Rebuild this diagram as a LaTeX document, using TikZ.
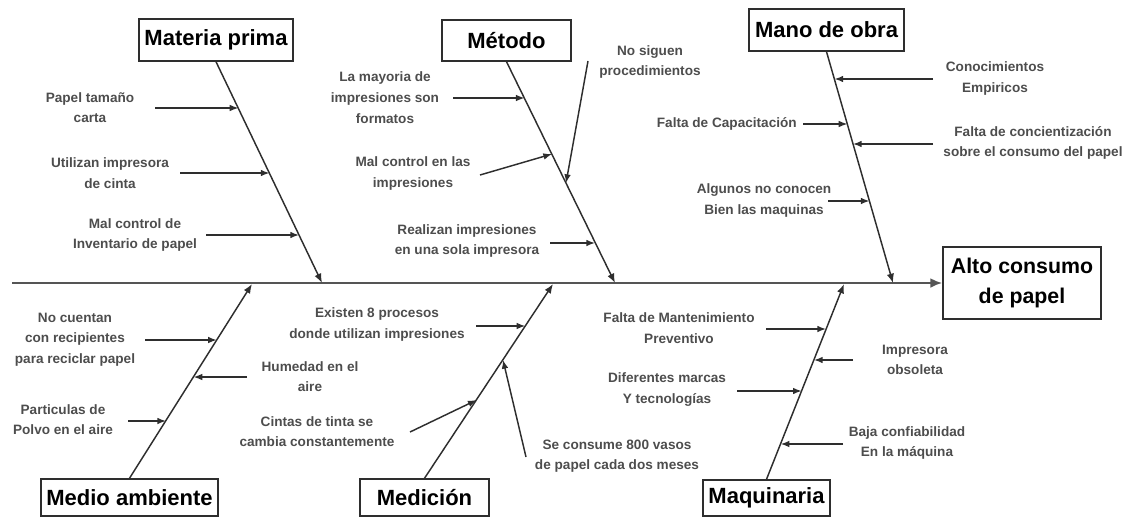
\documentclass[tikz,border=0pt]{standalone}
\usepackage{fontspec}
\setmainfont{Liberation Sans}
\usetikzlibrary{arrows.meta}
\definecolor{ink}{HTML}{2E2E2E}
\definecolor{spinec}{HTML}{555555}
\begin{document}
\begin{tikzpicture}[x=0.75pt,y=-0.75pt,
  lab/.style={font=\fontsize{10.2}{15.5}\selectfont\bfseries, text=ink!85, align=center, inner sep=0pt},
  cat/.style={draw=ink, line width=1.1pt, font=\fontsize{16.5}{22}\selectfont\bfseries, text=black, inner sep=0pt, align=center},
  bone/.style={line width=1.1pt, draw=ink, -{Latex[length=7pt,width=5.5pt]}},
  sub/.style={line width=1.1pt, draw=ink, -{Latex[length=6.5pt,width=5pt]}},
  spine/.style={line width=2.2pt, draw=spinec, -{Latex[length=9pt,width=7.5pt]}}]
\useasboundingbox (0,0) rectangle (1137,521);

% category boxes
\node[cat, minimum width={154*0.75pt}, minimum height={42*0.75pt}] (mp) at (216,40) {Materia prima};
\node[cat, minimum width={129*0.75pt}, minimum height={41*0.75pt}] (me) at (506.5,40.5) {Método};
\node[cat, minimum width={155*0.75pt}, minimum height={42*0.75pt}] (mo) at (826.5,30) {Mano de obra};
\node[cat, font=\fontsize{16}{22}\selectfont\bfseries, minimum width={158*0.75pt}, minimum height={72*0.75pt}] (alto) at (1022,283) {Alto consumo\\de papel};
\node[cat, minimum width={177*0.75pt}, minimum height={37*0.75pt}] (ma) at (129.5,497.5) {Medio ambiente};
\node[cat, minimum width={129*0.75pt}, minimum height={37*0.75pt}] (md) at (424.5,497.5) {Medición};
\node[cat, minimum width={127*0.75pt}, minimum height={36*0.75pt}] (mq) at (766.5,498) {Maquinaria};

% spine
\coordinate (spS) at (12,283);
\draw[spine] (spS) -- (alto.west);

% bones
\coordinate (mpE) at (322,283);
\coordinate (meE) at (615,283);
\coordinate (moE) at (893,283);
\coordinate (maE) at (252,284);
\coordinate (mdE) at (553,284);
\coordinate (mqE) at (844,284);
\draw[bone] (mp.south) -- (mpE);
\draw[bone] (me.south) -- (meE);
\draw[bone] (mo.south) -- (moE);
\draw[bone] (ma.north) -- (maE);
\draw[bone] (md.north) -- (mdE);
\draw[bone] (mq.north) -- (mqE);

% Materia prima causes
\node[lab] (l1) at (90,107.5) {Papel tamaño\\carta};
\node[lab] (l2) at (110,173) {Utilizan impresora\\de cinta};
\node[lab] (l3) at (135,235) {Mal control de\\Inventario de papel};
\coordinate (a1) at (155,108); \coordinate (b1) at (238.4,108);
\coordinate (a2) at (180,173); \coordinate (b2) at (269.5,173);
\coordinate (a3) at (206,235); \coordinate (b3) at (299,235);
\draw[sub] (a1) -- (b1);
\draw[sub] (a2) -- (b2);
\draw[sub] (a3) -- (b3);

% Metodo causes
\node[lab] (l4) at (385,97.5) {La mayoria de\\impresiones son\\formatos};
\node[lab] (l5) at (413,173.5) {Mal control en las\\impresiones};
\node[lab] (l6) at (650,62) {No siguen\\procedimientos};
\node[lab] (l7) at (467,241) {Realizan impresiones\\en una sola impresora};
\coordinate (a4) at (453,98); \coordinate (b4) at (524.6,98);
\coordinate (a5) at (480,175); \coordinate (b5) at (552,154);
\coordinate (a6) at (588,61); \coordinate (b6) at (566,183);
\coordinate (a7) at (550,243); \coordinate (b7) at (595,243);
\draw[sub] (a4) -- (b4);
\draw[sub] (a5) -- (b5);
\draw[sub] (a6) -- (b6);
\draw[sub] (a7) -- (b7);

% Mano de obra causes
\node[lab] (l8) at (995,78.5) {Conocimientos\\Empiricos};
\node[lab, anchor=east] (l9) at (797,124) {Falta de Capacitación};
\node[lab] (l10) at (1033,143) {Falta de concientización\\sobre el consumo del papel};
\node[lab] (l11) at (764,200.5) {Algunos no conocen\\Bien las maquinas};
\coordinate (a8) at (933,79); \coordinate (b8) at (834.5,79);
\coordinate (a9) at (803,124); \coordinate (b9) at (847.4,124);
\coordinate (a10) at (933,144); \coordinate (b10) at (853,144);
\coordinate (a11) at (828,201); \coordinate (b11) at (869.5,201);
\draw[sub] (a8) -- (b8);
\draw[sub] (a9) -- (b9);
\draw[sub] (a10) -- (b10);
\draw[sub] (a11) -- (b11);

% Medio ambiente causes
\node[lab] (l12) at (75,339.5) {No cuentan\\con recipientes\\para reciclar papel};
\node[lab] (l13) at (310,376.5) {Humedad en el\\aire};
\node[lab] (l14) at (63,419.5) {Particulas de\\Polvo en el aire};
\coordinate (a12) at (145,340); \coordinate (b12) at (216.8,340);
\coordinate (a13) at (247,377); \coordinate (b13) at (193.6,377);
\coordinate (a14) at (128,421); \coordinate (b14) at (166,421);
\draw[sub] (a12) -- (b12);
\draw[sub] (a13) -- (b13);
\draw[sub] (a14) -- (b14);

% Medicion causes
\node[lab] (l15) at (377,324.5) {Existen 8 procesos\\donde utilizan impresiones};
\node[lab] (l16) at (317,431.5) {Cintas de tinta se\\cambia constantemente};
\node[lab] (l17) at (617,456) {Se consume 800 vasos\\de papel cada dos meses};
\coordinate (a15) at (476,326); \coordinate (b15) at (525.3,326);
\coordinate (a16) at (410,432); \coordinate (b16) at (476.6,400);
\coordinate (a17) at (526,457); \coordinate (b17) at (503,360);
\draw[sub] (a15) -- (b15);
\draw[sub] (a16) -- (b16);
\draw[sub] (a17) -- (b17);

% Maquinaria causes
\node[lab] (l18) at (679,328) {Falta de Mantenimiento\\Preventivo};
\node[lab] (l19) at (915,360) {Impresora\\obsoleta};
\node[lab] (l20) at (667,389.5) {Diferentes marcas\\Y tecnologías};
\node[lab] (l21) at (907,443) {Baja confiabilidad\\En la máquina};
\coordinate (a18) at (766,329); \coordinate (b18) at (826,329);
\coordinate (a19) at (853,360); \coordinate (b19) at (814,360);
\coordinate (a20) at (737,391); \coordinate (b20) at (801.7,391);
\coordinate (a21) at (843,444); \coordinate (b21) at (780.7,444);
\draw[sub] (a18) -- (b18);
\draw[sub] (a19) -- (b19);
\draw[sub] (a20) -- (b20);
\draw[sub] (a21) -- (b21);
\end{tikzpicture}
\end{document}
